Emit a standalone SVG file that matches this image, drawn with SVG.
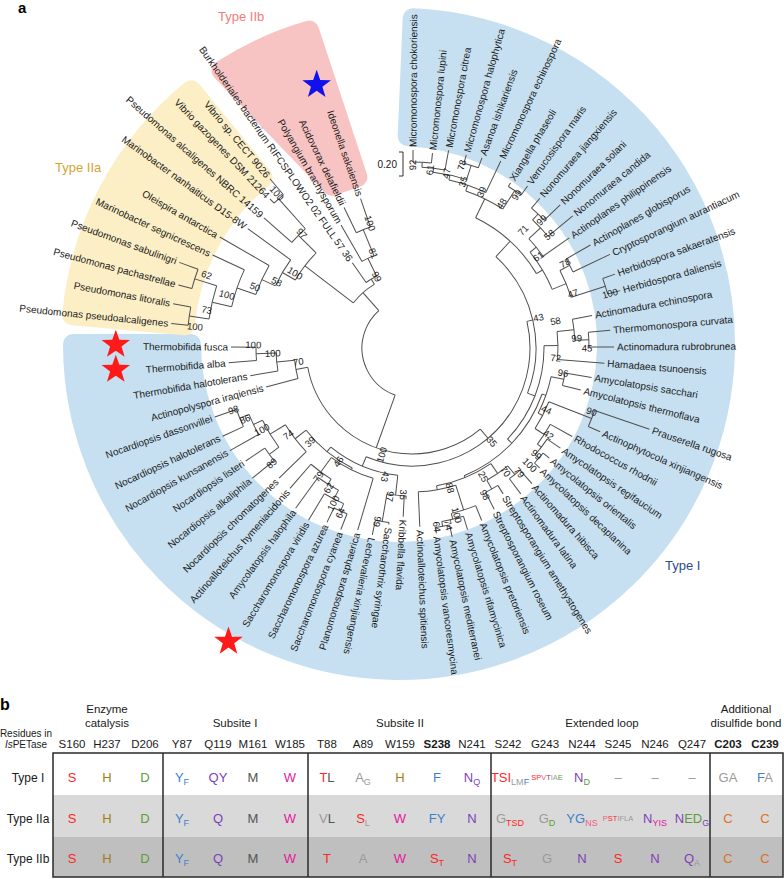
<svg xmlns="http://www.w3.org/2000/svg" width="784" height="879" viewBox="0 0 784 879">
<defs>
<style>
text{font-family:"Liberation Sans",Arial,sans-serif;}
.br line,.br circle{stroke:#4f4f4f;stroke-width:1;fill:none;}
.tl text{font-size:10px;fill:#1a1a1a;}
.tl .e{text-anchor:end;}
.bs text{font-size:9.5px;fill:#1a1a1a;text-anchor:middle;}
.hd{font-size:11.5px;fill:#1a1a1a;text-anchor:middle;}
.cl{font-size:13px;text-anchor:middle;}
.sm{font-size:7.5px;text-anchor:middle;}
.r{fill:#ff2626}.o{fill:#a07e16}.g{fill:#5e9b3a}.b{fill:#3c7fcf}.p{fill:#7d3fba}.k{fill:#555}.m{fill:#e3179d}.l{fill:#9a9a9a}.c{fill:#e06f1f}.pk{fill:#f06080}
</style>
<polygon id="star" points="0,-15 3.53,-4.85 14.27,-4.64 5.71,1.85 8.82,12.14 0,6 -8.82,12.14 -5.71,1.85 -14.27,-4.64 -3.53,-4.85"/>
</defs>
<rect width="784" height="879" fill="#fff"/>

<g id="regions" stroke-linejoin="round" stroke-width="20">
<path id="typeI-bg" d="M412.65,18.3 A326,326 0 1 1 73,344 L191,344 A208,208 0 1 0 407.7,136.2 Z" fill="#c7e0f1" stroke="#c7e0f1"/>
<path id="typeIIa-bg" d="M72.25,315.4 A328,328 0 0 1 191.25,90.18 L262.82,177.62 A215,215 0 0 0 184.82,325.26 Z" fill="#fcefc6" stroke="#fcefc6"/>
<path id="typeIIb-bg" d="M221.45,70.59 A326,326 0 0 1 309.14,30.63 L357.39,177.11 L331.79,185.67 Z" fill="#f8c3c3" stroke="#f8c3c3"/>
</g>

<text x="18" y="13" font-size="15" font-weight="bold" fill="#000">a</text>
<text x="218" y="21" font-size="13" fill="#f27c7c">Type IIb</text>
<text x="55" y="172" font-size="13" fill="#d3a534">Type IIa</text>
<text x="665" y="570" font-size="13" fill="#2a4b8d">Type I</text>

<g id="connectors" class="br" transform="translate(412,348)">
<circle r="50" pathLength="360" stroke-dasharray="118.73 400" transform="rotate(109.72)"/>
<line x1="50" x2="106" transform="rotate(109.72)"/>
<line x1="50" x2="74" transform="rotate(228.45)"/>
<circle r="106" pathLength="360" stroke-dasharray="119.64 400" transform="rotate(49.9)"/>
<line x1="106" x2="118" transform="rotate(169.54)"/>
<line x1="106" x2="118" transform="rotate(49.9)"/>
<circle r="118" pathLength="360" stroke-dasharray="9.08 400" transform="rotate(165)"/>
<line x1="118" x2="151" transform="rotate(165)"/>
<line x1="118" x2="136" transform="rotate(174.08)"/>
<circle r="136" pathLength="360" stroke-dasharray="7.55 400" transform="rotate(170.3)"/>
<line x1="136" x2="164" transform="rotate(170.3)"/>
<line x1="136" x2="156" transform="rotate(177.85)"/>
<circle r="156" pathLength="360" stroke-dasharray="4.9 400" transform="rotate(175.4)"/>
<line x1="156" x2="184" transform="rotate(175.4)"/>
<line x1="156" x2="181" transform="rotate(180.3)"/>
<circle r="118" pathLength="360" stroke-dasharray="125.9 400" transform="rotate(-13.045)"/>
<line x1="118" x2="124" transform="rotate(-13.045)"/>
<line x1="118" x2="128" transform="rotate(112.85)"/>
<circle r="124" pathLength="360" stroke-dasharray="68.75 400" transform="rotate(-47.42)"/>
<line x1="124" x2="145" transform="rotate(-47.42)"/>
<line x1="124" x2="132" transform="rotate(21.33)"/>
<circle r="145" pathLength="360" stroke-dasharray="33.12 400" transform="rotate(-63.98)"/>
<line x1="145" x2="166" transform="rotate(-63.98)"/>
<line x1="145" x2="152" transform="rotate(-30.86)"/>
<circle r="166" pathLength="360" stroke-dasharray="14.25 400" transform="rotate(-71.1)"/>
<line x1="166" x2="172" transform="rotate(-71.1)"/>
<line x1="166" x2="188" transform="rotate(-56.85)"/>
<circle r="172" pathLength="360" stroke-dasharray="13.01 400" transform="rotate(-77.61)"/>
<line x1="172" x2="177" transform="rotate(-77.61)"/>
<line x1="172" x2="207" transform="rotate(-64.6)"/>
<circle r="177" pathLength="360" stroke-dasharray="11.125 400" transform="rotate(-83.175)"/>
<line x1="177" x2="181" transform="rotate(-83.175)"/>
<line x1="177" x2="192" transform="rotate(-72.05)"/>
<circle r="181" pathLength="360" stroke-dasharray="7.35 400" transform="rotate(-86.85)"/>
<line x1="181" x2="186" transform="rotate(-86.85)"/>
<line x1="181" x2="201" transform="rotate(-79.5)"/>
<circle r="186" pathLength="360" stroke-dasharray="5.7 400" transform="rotate(-89.7)"/>
<line x1="186" x2="198" transform="rotate(-89.7)"/>
<line x1="186" x2="196" transform="rotate(-84)"/>
<circle r="192" pathLength="360" stroke-dasharray="4.5 400" transform="rotate(-74.3)"/>
<line x1="192" x2="200.6" transform="rotate(-74.3)"/>
<line x1="192" x2="202.6" transform="rotate(-69.8)"/>
<circle r="188" pathLength="360" stroke-dasharray="4.7 400" transform="rotate(-59.2)"/>
<line x1="188" x2="192.5" transform="rotate(-59.2)"/>
<line x1="188" x2="199" transform="rotate(-54.5)"/>
<circle r="152" pathLength="360" stroke-dasharray="16.36 400" transform="rotate(-39.04)"/>
<line x1="152" x2="160" transform="rotate(-39.04)"/>
<line x1="152" x2="167" transform="rotate(-22.68)"/>
<circle r="160" pathLength="360" stroke-dasharray="8.08 400" transform="rotate(-43.08)"/>
<line x1="160" x2="176" transform="rotate(-43.08)"/>
<line x1="160" x2="192" transform="rotate(-35)"/>
<circle r="176" pathLength="360" stroke-dasharray="7.35 400" transform="rotate(-46.75)"/>
<line x1="176" x2="184" transform="rotate(-46.75)"/>
<line x1="176" x2="208" transform="rotate(-39.4)"/>
<circle r="184" pathLength="360" stroke-dasharray="5.5 400" transform="rotate(-49.5)"/>
<line x1="184" x2="197" transform="rotate(-49.5)"/>
<line x1="184" x2="206" transform="rotate(-44)"/>
<circle r="167" pathLength="360" stroke-dasharray="9.97 400" transform="rotate(-27.65)"/>
<line x1="167" x2="178" transform="rotate(-27.65)"/>
<line x1="167" x2="203" transform="rotate(-17.7)"/>
<circle r="178" pathLength="360" stroke-dasharray="4.7 400" transform="rotate(-30)"/>
<line x1="178" x2="206" transform="rotate(-30)"/>
<line x1="178" x2="219" transform="rotate(-25.3)"/>
<circle r="203" pathLength="360" stroke-dasharray="4.6 400" transform="rotate(-20)"/>
<line x1="203" x2="216" transform="rotate(-20)"/>
<line x1="203" x2="216" transform="rotate(-15.4)"/>
<circle r="132" pathLength="360" stroke-dasharray="44.615 400" transform="rotate(-0.975)"/>
<line x1="132" x2="146" transform="rotate(-0.975)"/>
<line x1="132" x2="138" transform="rotate(43.64)"/>
<circle r="146" pathLength="360" stroke-dasharray="10.95 400" transform="rotate(-6.45)"/>
<line x1="146" x2="163" transform="rotate(-6.45)"/>
<line x1="146" x2="193" transform="rotate(4.5)"/>
<circle r="163" pathLength="360" stroke-dasharray="7.5 400" transform="rotate(-10.2)"/>
<line x1="163" x2="183" transform="rotate(-10.2)"/>
<line x1="163" x2="177" transform="rotate(-2.7)"/>
<circle r="177" pathLength="360" stroke-dasharray="4.8 400" transform="rotate(-5.1)"/>
<line x1="177" x2="199" transform="rotate(-5.1)"/>
<line x1="177" x2="202" transform="rotate(-0.3)"/>
<circle r="138" pathLength="360" stroke-dasharray="48.315 400" transform="rotate(19.485)"/>
<line x1="138" x2="142" transform="rotate(19.485)"/>
<line x1="138" x2="140" transform="rotate(67.8)"/>
<circle r="142" pathLength="360" stroke-dasharray="15.67 400" transform="rotate(11.65)"/>
<line x1="142" x2="155" transform="rotate(11.65)"/>
<line x1="142" x2="147" transform="rotate(27.32)"/>
<circle r="155" pathLength="360" stroke-dasharray="4.7 400" transform="rotate(9.3)"/>
<line x1="155" x2="182" transform="rotate(9.3)"/>
<line x1="155" x2="174" transform="rotate(14)"/>
<circle r="147" pathLength="360" stroke-dasharray="11.74 400" transform="rotate(21.45)"/>
<line x1="147" x2="193" transform="rotate(21.45)"/>
<line x1="147" x2="158" transform="rotate(33.19)"/>
<circle r="193" pathLength="360" stroke-dasharray="5.1 400" transform="rotate(18.9)"/>
<line x1="193" x2="251" transform="rotate(18.9)"/>
<line x1="193" x2="206" transform="rotate(24)"/>
<circle r="158" pathLength="360" stroke-dasharray="8.575 400" transform="rotate(28.9)"/>
<line x1="158" x2="183" transform="rotate(28.9)"/>
<line x1="158" x2="163" transform="rotate(37.475)"/>
<circle r="163" pathLength="360" stroke-dasharray="6.95 400" transform="rotate(34)"/>
<line x1="163" x2="179" transform="rotate(34)"/>
<line x1="163" x2="168" transform="rotate(40.95)"/>
<circle r="168" pathLength="360" stroke-dasharray="4.5 400" transform="rotate(38.7)"/>
<line x1="168" x2="176" transform="rotate(38.7)"/>
<line x1="168" x2="175" transform="rotate(43.2)"/>
<circle r="140" pathLength="360" stroke-dasharray="24.205 400" transform="rotate(55.7)"/>
<line x1="140" x2="152" transform="rotate(55.7)"/>
<line x1="140" x2="144" transform="rotate(79.905)"/>
<circle r="152" pathLength="360" stroke-dasharray="9.6 400" transform="rotate(50.9)"/>
<line x1="152" x2="163" transform="rotate(50.9)"/>
<line x1="152" x2="162" transform="rotate(60.5)"/>
<circle r="163" pathLength="360" stroke-dasharray="4.8 400" transform="rotate(48.5)"/>
<line x1="163" x2="181" transform="rotate(48.5)"/>
<line x1="163" x2="182" transform="rotate(53.3)"/>
<circle r="162" pathLength="360" stroke-dasharray="5 400" transform="rotate(58)"/>
<line x1="162" x2="172" transform="rotate(58)"/>
<line x1="162" x2="181" transform="rotate(63)"/>
<circle r="144" pathLength="360" stroke-dasharray="15.19 400" transform="rotate(72.31)"/>
<line x1="144" x2="170" transform="rotate(72.31)"/>
<line x1="144" x2="179" transform="rotate(87.5)"/>
<circle r="170" pathLength="360" stroke-dasharray="8.625 400" transform="rotate(68)"/>
<line x1="170" x2="186" transform="rotate(68)"/>
<line x1="170" x2="176" transform="rotate(76.625)"/>
<circle r="176" pathLength="360" stroke-dasharray="7.25 400" transform="rotate(73)"/>
<line x1="176" x2="190" transform="rotate(73)"/>
<line x1="176" x2="181" transform="rotate(80.25)"/>
<circle r="181" pathLength="360" stroke-dasharray="4.5 400" transform="rotate(78)"/>
<line x1="181" x2="193" transform="rotate(78)"/>
<line x1="181" x2="187" transform="rotate(82.5)"/>
<circle r="128" pathLength="360" stroke-dasharray="32.95 400" transform="rotate(96.375)"/>
<line x1="128" x2="148" transform="rotate(96.375)"/>
<line x1="128" x2="134" transform="rotate(129.325)"/>
<circle r="148" pathLength="360" stroke-dasharray="6.75 400" transform="rotate(93)"/>
<line x1="148" x2="169" transform="rotate(93)"/>
<line x1="148" x2="176" transform="rotate(99.75)"/>
<circle r="176" pathLength="360" stroke-dasharray="4.5 400" transform="rotate(97.5)"/>
<line x1="176" x2="178" transform="rotate(97.5)"/>
<line x1="176" x2="191" transform="rotate(102)"/>
<circle r="134" pathLength="360" stroke-dasharray="25.71 400" transform="rotate(116.47)"/>
<line x1="134" x2="136" transform="rotate(116.47)"/>
<line x1="134" x2="148" transform="rotate(142.18)"/>
<circle r="136" pathLength="360" stroke-dasharray="19.74 400" transform="rotate(106.6)"/>
<line x1="136" x2="190" transform="rotate(106.6)"/>
<line x1="136" x2="154" transform="rotate(126.34)"/>
<circle r="154" pathLength="360" stroke-dasharray="9.325 400" transform="rotate(121.675)"/>
<line x1="154" x2="186" transform="rotate(131)"/>
<line x1="154" x2="160" transform="rotate(121.675)"/>
<circle r="160" pathLength="360" stroke-dasharray="8.65 400" transform="rotate(117.35)"/>
<line x1="160" x2="198" transform="rotate(126)"/>
<line x1="160" x2="170" transform="rotate(117.35)"/>
<circle r="170" pathLength="360" stroke-dasharray="7.3 400" transform="rotate(113.7)"/>
<line x1="170" x2="201" transform="rotate(121)"/>
<line x1="170" x2="178" transform="rotate(113.7)"/>
<circle r="178" pathLength="360" stroke-dasharray="4.6 400" transform="rotate(111.4)"/>
<line x1="178" x2="195" transform="rotate(111.4)"/>
<line x1="178" x2="194" transform="rotate(116)"/>
<circle r="148" pathLength="360" stroke-dasharray="13.16 400" transform="rotate(135.6)"/>
<line x1="148" x2="186" transform="rotate(135.6)"/>
<line x1="148" x2="166" transform="rotate(148.76)"/>
<circle r="166" pathLength="360" stroke-dasharray="10.925 400" transform="rotate(143.3)"/>
<line x1="166" x2="178" transform="rotate(143.3)"/>
<line x1="166" x2="176" transform="rotate(154.225)"/>
<circle r="178" pathLength="360" stroke-dasharray="5 400" transform="rotate(140.8)"/>
<line x1="178" x2="206" transform="rotate(140.8)"/>
<line x1="178" x2="201" transform="rotate(145.8)"/>
<circle r="176" pathLength="360" stroke-dasharray="7.25 400" transform="rotate(150.6)"/>
<line x1="176" x2="209" transform="rotate(150.6)"/>
<line x1="176" x2="186" transform="rotate(157.85)"/>
<circle r="186" pathLength="360" stroke-dasharray="5.7 400" transform="rotate(155)"/>
<line x1="186" x2="209" transform="rotate(155)"/>
<line x1="186" x2="209" transform="rotate(160.7)"/>
<circle r="74" pathLength="360" stroke-dasharray="21.9 400" transform="rotate(217.5)"/>
<line x1="74" x2="135" transform="rotate(217.5)"/>
<line x1="74" x2="80" transform="rotate(239.4)"/>
<circle r="135" pathLength="360" stroke-dasharray="14.51 400" transform="rotate(210.24)"/>
<line x1="135" x2="150" transform="rotate(210.24)"/>
<line x1="135" x2="160" transform="rotate(224.75)"/>
<circle r="150" pathLength="360" stroke-dasharray="11.525 400" transform="rotate(204.475)"/>
<line x1="150" x2="165" transform="rotate(204.475)"/>
<line x1="150" x2="203" transform="rotate(216)"/>
<circle r="165" pathLength="360" stroke-dasharray="11.05 400" transform="rotate(198.95)"/>
<line x1="165" x2="185" transform="rotate(198.95)"/>
<line x1="165" x2="222" transform="rotate(210)"/>
<circle r="185" pathLength="360" stroke-dasharray="12.1 400" transform="rotate(192.9)"/>
<line x1="185" x2="205" transform="rotate(192.9)"/>
<line x1="185" x2="220" transform="rotate(205)"/>
<circle r="205" pathLength="360" stroke-dasharray="9.5 400" transform="rotate(188.15)"/>
<line x1="205" x2="225" transform="rotate(188.15)"/>
<line x1="205" x2="228" transform="rotate(197.65)"/>
<circle r="225" pathLength="360" stroke-dasharray="4.7 400" transform="rotate(185.8)"/>
<line x1="225" x2="242" transform="rotate(185.8)"/>
<line x1="225" x2="243" transform="rotate(190.5)"/>
<circle r="228" pathLength="360" stroke-dasharray="5.1 400" transform="rotate(195.1)"/>
<line x1="228" x2="242" transform="rotate(195.1)"/>
<line x1="228" x2="248" transform="rotate(200.2)"/>
<circle r="160" pathLength="360" stroke-dasharray="6.9 400" transform="rotate(221.3)"/>
<line x1="160" x2="197" transform="rotate(221.3)"/>
<line x1="160" x2="200" transform="rotate(228.2)"/>
<circle r="200" pathLength="360" stroke-dasharray="3.6 400" transform="rotate(226.4)"/>
<line x1="200" x2="206" transform="rotate(226.4)"/>
<line x1="200" x2="221" transform="rotate(230)"/>
<circle r="80" pathLength="360" stroke-dasharray="8.8 400" transform="rotate(235)"/>
<line x1="80" x2="104" transform="rotate(235)"/>
<line x1="80" x2="100" transform="rotate(243.8)"/>
<circle r="100" pathLength="360" stroke-dasharray="7.6 400" transform="rotate(240)"/>
<line x1="100" x2="142" transform="rotate(240)"/>
<line x1="100" x2="128" transform="rotate(247.6)"/>
<circle r="128" pathLength="360" stroke-dasharray="6.8 400" transform="rotate(244.2)"/>
<line x1="128" x2="156" transform="rotate(244.2)"/>
<line x1="128" x2="158" transform="rotate(251)"/>
</g>

<g id="taxa" class="tl" transform="translate(412,348)">
<g id="t01"><text transform="rotate(-89.7)" x="201" y="3.5">Micromonospora chokoriensis</text></g>
<g id="t02"><text transform="rotate(-84)" x="199" y="3.5">Micromonospora lupini</text></g>
<g id="t03"><text transform="rotate(-79.5)" x="204" y="3.5">Micromonospora citrea</text></g>
<g id="t04"><text transform="rotate(-74.3)" x="203.6" y="3.5">Micromonospora halophytica</text></g>
<g id="t05"><text transform="rotate(-69.8)" x="205.6" y="3.5">Asanoa ishikariensis</text></g>
<g id="t06"><text transform="rotate(-64.6)" x="210" y="3.5">Micromonospora echinospora</text></g>
<g id="t07"><text transform="rotate(-59.2)" x="195.5" y="3.5">Xiangella phaseoli</text></g>
<g id="t08"><text transform="rotate(-54.5)" x="202" y="3.5">Verrucosispora maris</text></g>
<g id="t09"><text transform="rotate(-49.5)" x="200" y="3.5">Nonomuraea jiangxiensis</text></g>
<g id="t10"><text transform="rotate(-44)" x="209" y="3.5">Nonomuraea solani</text></g>
<g id="t11"><text transform="rotate(-39.4)" x="211" y="3.5">Nonomuraea candida</text></g>
<g id="t12"><text transform="rotate(-35)" x="195" y="3.5">Actinoplanes philippinensis</text></g>
<g id="t13"><text transform="rotate(-30)" x="209" y="3.5">Actinoplanes globisporus</text></g>
<g id="t14"><text transform="rotate(-25.3)" x="222" y="3.5">Cryptosporangium aurantiacum</text></g>
<g id="t15"><text transform="rotate(-20)" x="219" y="3.5">Herbidospora sakaeratensis</text></g>
<g id="t16"><text transform="rotate(-15.4)" x="219" y="3.5">Herbidospora daliensis</text></g>
<g id="t17"><text transform="rotate(-10.2)" x="186" y="3.5">Actinomadura echinospora</text></g>
<g id="t18"><text transform="rotate(-5.1)" x="202" y="3.5">Thermomonospora curvata</text></g>
<g id="t19"><text transform="rotate(-0.3)" x="205" y="3.5">Actinomadura rubrobrunea</text></g>
<g id="t20"><text transform="rotate(4.5)" x="196" y="3.5">Hamadaea tsunoensis</text></g>
<g id="t21"><text transform="rotate(9.3)" x="185" y="3.5">Amycolatopsis sacchari</text></g>
<g id="t22"><text transform="rotate(14)" x="177" y="3.5">Amycolatopsis thermoflava</text></g>
<g id="t23"><text transform="rotate(18.9)" x="254" y="3.5">Prauserella rugosa</text></g>
<g id="t24"><text transform="rotate(24)" x="209" y="3.5">Actinophytocola xinjiangensis</text></g>
<g id="t25"><text transform="rotate(28.9)" x="186" y="3.5">Rhodococcus rhodnii</text></g>
<g id="t26"><text transform="rotate(34)" x="182" y="3.5">Amycolatopsis regifaucium</text></g>
<g id="t27"><text transform="rotate(38.7)" x="179" y="3.5">Amycolatopsis orientalis</text></g>
<g id="t28"><text transform="rotate(43.2)" x="178" y="3.5">Amycolatopsis decaplanina</text></g>
<g id="t29"><text transform="rotate(48.5)" x="184" y="3.5">Actinomadura hibisca</text></g>
<g id="t30"><text transform="rotate(53.3)" x="185" y="3.5">Actinomadura latina</text></g>
<g id="t31"><text transform="rotate(58)" x="175" y="3.5">Streptosporangium amethystogenes</text></g>
<g id="t32"><text transform="rotate(63)" x="184" y="3.5">Streptosporangium roseum</text></g>
<g id="t33"><text transform="rotate(68)" x="189" y="3.5">Amycolatopsis pretoriensis</text></g>
<g id="t34"><text transform="rotate(73)" x="193" y="3.5">Amycolatopsis rifamycinica</text></g>
<g id="t35"><text transform="rotate(78)" x="196" y="3.5">Amycolatopsis mediterranei</text></g>
<g id="t36"><text transform="rotate(82.5)" x="190" y="3.5">Amycolatopsis vancoresmycina</text></g>
<g id="t37"><text transform="rotate(87.5)" x="182" y="3.5">Actinoalloteichus spitiensis</text></g>
<g id="t38"><text transform="rotate(93)" x="172" y="3.5">Kribbella flavida</text></g>
<g id="t39"><text transform="rotate(97.5)" x="181" y="3.5">Saccharothrix syringae</text></g>
<g id="t40"><text transform="rotate(102)" x="194" y="3.5">Lechevalieria xinjiangensis</text></g>
<g id="t41"><text class="e" transform="rotate(-73.4)" x="-193" y="3.5">Planomonospora sphaerica</text></g>
<g id="t42"><text class="e" transform="rotate(-68.6)" x="-198" y="3.5">Saccharomonospora cyanea</text></g>
<g id="t43"><text class="e" transform="rotate(-64)" x="-197" y="3.5">Saccharomonospora azurea</text></g>
<g id="t44"><text class="e" transform="rotate(-59)" x="-204" y="3.5">Saccharomonospora viridis</text></g>
<g id="t45"><text class="e" transform="rotate(-54)" x="-201" y="3.5">Amycolatopsis halophila</text></g>
<g id="t46"><text class="e" transform="rotate(-49)" x="-189" y="3.5">Actinoalloteichus hymeniacidonis</text></g>
<g id="t47"><text class="e" transform="rotate(-44.4)" x="-189" y="3.5">Nocardiopsis chromatogenes</text></g>
<g id="t48"><text class="e" transform="rotate(-39.2)" x="-209" y="3.5">Nocardiopsis alkaliphila</text></g>
<g id="t49"><text class="e" transform="rotate(-34.2)" x="-204" y="3.5">Nocardiopsis listeri</text></g>
<g id="t50"><text class="e" transform="rotate(-29.4)" x="-212" y="3.5">Nocardiopsis kunsanensis</text></g>
<g id="t51"><text class="e" transform="rotate(-25)" x="-212" y="3.5">Nocardiopsis halotolerans</text></g>
<g id="t52"><text class="e" transform="rotate(-19.3)" x="-212" y="3.5">Nocardiopsis dassonvillei</text></g>
<g id="t53"><text class="e" transform="rotate(-15)" x="-154" y="3.5">Actinopolyspora iraqiensis</text></g>
<g id="t54"><text class="e" transform="rotate(-9.7)" x="-167" y="3.5">Thermobifida halotolerans</text></g>
<g id="t55"><text class="e" transform="rotate(-4.6)" x="-187" y="3.5">Thermobifida alba</text></g>
<g id="t56"><text class="e" transform="rotate(0.3)" x="-184" y="3.5">Thermobifida fusca</text></g>
<g id="t57"><text class="e" transform="rotate(5.8)" x="-245" y="3.5">Pseudomonas pseudoalcaligenes</text></g>
<g id="t58"><text class="e" transform="rotate(10.5)" x="-246" y="3.5">Pseudomonas litoralis</text></g>
<g id="t59"><text class="e" transform="rotate(15.1)" x="-245" y="3.5">Pseudomonas pachastrellae</text></g>
<g id="t60"><text class="e" transform="rotate(20.2)" x="-251" y="3.5">Pseudomonas sabulinigri</text></g>
<g id="t61"><text class="e" transform="rotate(25)" x="-223" y="3.5">Marinobacter segnicrescens</text></g>
<g id="t62"><text class="e" transform="rotate(30)" x="-225" y="3.5">Oleispira antarctica</text></g>
<g id="t63"><text class="e" transform="rotate(36)" x="-206" y="3.5">Marinobacter nanhaiticus D15-8W</text></g>
<g id="t64"><text class="e" transform="rotate(41.3)" x="-200" y="3.5">Pseudomonas alcaligenes NBRC 14159</text></g>
<g id="t65"><text class="e" transform="rotate(46.4)" x="-209" y="3.5">Vibrio gazogenes DSM 21264</text></g>
<g id="t66"><text class="e" transform="rotate(50)" x="-224" y="3.5">Vibrio sp. CECT 9026</text></g>
<g id="t67"><text class="e" transform="rotate(55)" x="-107" y="3.5">Burkholderiales bacterium RIFCSPLOWO2 02 FULL 57 36</text></g>
<g id="t68"><text class="e" transform="rotate(60)" x="-145" y="3.5">Polyangium brachysporum</text></g>
<g id="t69"><text class="e" transform="rotate(64.2)" x="-159" y="3.5">Acidovorax delafieldii</text></g>
<g id="t70"><text class="e" transform="rotate(71)" x="-161" y="3.5">Ideonella sakaiensis</text></g>
</g>

<g id="support" class="bs" transform="translate(412,348)">
<text transform="rotate(-89.8)" x="183" y="3.3">92</text>
<text transform="rotate(-84.2)" x="179" y="3.3">61</text>
<text transform="rotate(-78.8)" x="178" y="3.3">47</text>
<text transform="rotate(-74.8)" x="189.6" y="3.3">78</text>
<text transform="rotate(-72.9)" x="174" y="3.3">35</text>
<text transform="rotate(-66)" x="171" y="3.3">39</text>
<text transform="rotate(-58.2)" x="170" y="3.3">48</text>
<text transform="rotate(-55.6)" x="185.4" y="3.3">99</text>
<text transform="rotate(-46.7)" x="162" y="3.3">71</text>
<text transform="rotate(-44.6)" x="182" y="3.3">99</text>
<text transform="rotate(-39.5)" x="178" y="3.3">58</text>
<text transform="rotate(-35.9)" x="156" y="3.3">61</text>
<text transform="rotate(-29)" x="175" y="3.3">78</text>
<text transform="rotate(-18.7)" x="170" y="3.3">47</text>
<text transform="rotate(-15.4)" x="205.4" y="3.3">100</text>
<text transform="rotate(-13.5)" x="130" y="3.3">43</text>
<text transform="rotate(-10.6)" x="146" y="3.3">58</text>
<text transform="rotate(-3.4)" x="165" y="3.3">99</text>
<text transform="rotate(0.1)" x="175" y="3.3">45</text>
<text transform="rotate(4)" x="144" y="3.3">72</text>
<text transform="rotate(9.4)" x="153" y="3.3">96</text>
<text transform="rotate(19.5)" x="190.6" y="3.3">90</text>
<text transform="rotate(24.7)" x="148" y="3.3">44</text>
<text transform="rotate(32.5)" x="161.7" y="3.3">42</text>
<text transform="rotate(40.6)" x="164" y="3.3">99</text>
<text transform="rotate(44.8)" x="166" y="3.3">100</text>
<text transform="rotate(49.3)" x="164.5" y="3.3">79</text>
<text transform="rotate(52.9)" x="155" y="3.3">70</text>
<text transform="rotate(49.6)" x="123" y="3.3">35</text>
<text transform="rotate(61)" x="147" y="3.3">25</text>
<text transform="rotate(63.6)" x="164" y="3.3">98</text>
<text transform="rotate(74.8)" x="145" y="3.3">88</text>
<text transform="rotate(75)" x="173" y="3.3">100</text>
<text transform="rotate(78.4)" x="180.7" y="3.3">74</text>
<text transform="rotate(82.1)" x="180.4" y="3.3">64</text>
<text transform="rotate(93.4)" x="147" y="3.3">35</text>
<text transform="rotate(98.4)" x="150" y="3.3">97</text>
<text transform="rotate(101.8)" x="131.5" y="3.3">43</text>
<text transform="rotate(101.3)" x="177" y="3.3">99</text>
<text transform="rotate(-74.2)" x="-111" y="3.3">100</text>
<text transform="rotate(-66.5)" x="-180" y="3.3">64</text>
<text transform="rotate(-63.1)" x="-174" y="3.3">100</text>
<text transform="rotate(-59.2)" x="-163" y="3.3">62</text>
<text transform="rotate(-54)" x="-159" y="3.3">79</text>
<text transform="rotate(-57.1)" x="-135.5" y="3.3">46</text>
<text transform="rotate(-42.6)" x="-138.5" y="3.3">39</text>
<text transform="rotate(-35.1)" x="-151" y="3.3">74</text>
<text transform="rotate(-39.4)" x="-181.6" y="3.3">89</text>
<text transform="rotate(-28.6)" x="-171" y="3.3">100</text>
<text transform="rotate(-23.1)" x="-181.6" y="3.3">86</text>
<text transform="rotate(-19.1)" x="-189" y="3.3">98</text>
<text transform="rotate(-6.9)" x="-114.5" y="3.3">70</text>
<text transform="rotate(-2.2)" x="-139.4" y="3.3">100</text>
<text transform="rotate(1.1)" x="-158.7" y="3.3">100</text>
<text transform="rotate(5.6)" x="-218" y="3.3">100</text>
<text transform="rotate(10.5)" x="-208.8" y="3.3">73</text>
<text transform="rotate(19.6)" x="-218" y="3.3">62</text>
<text transform="rotate(16)" x="-192.7" y="3.3">100</text>
<text transform="rotate(21.3)" x="-168.5" y="3.3">50</text>
<text transform="rotate(26.1)" x="-150.7" y="3.3">58</text>
<text transform="rotate(32.6)" x="-138.8" y="3.3">100</text>
<text transform="rotate(46.1)" x="-159" y="3.3">97</text>
<text transform="rotate(48.8)" x="-205.5" y="3.3">100</text>
<text transform="rotate(63.7)" x="-79.6" y="3.3">99</text>
<text transform="rotate(67.8)" x="-102.3" y="3.3">81</text>
<text transform="rotate(71.4)" x="-131.6" y="3.3">100</text>
</g>

<g id="scale-bar">
<path d="M399,152 H403 V176 H399" fill="none" stroke="#333" stroke-width="1"/>
<text x="397" y="167.5" font-size="10" text-anchor="end" fill="#1a1a1a">0.20</text>
</g>

<g id="stars">
<use href="#star" x="316.7" y="84.8" fill="#1111ee"/>
<use href="#star" x="115.8" y="344.7" fill="#ff1a1a"/>
<use href="#star" x="115.8" y="369.7" fill="#ff1a1a"/>
<use href="#star" x="228.5" y="641.5" fill="#ff1a1a"/>
</g>

<g id="table">
<text x="0" y="710" font-size="16" font-weight="bold" fill="#000">b</text>
<rect x="53" y="753" width="730" height="42" fill="#ffffff"/>
<rect x="53" y="795" width="730" height="42" fill="#d9d9d9"/>
<rect x="53" y="837" width="730" height="40" fill="#bfbfbf"/>
<rect x="53" y="753" width="730" height="124" fill="none" stroke="#2a2a2a" stroke-width="1.5"/>
<g stroke="#2a2a2a" stroke-width="1.5">
<line x1="163" y1="753" x2="163" y2="877"/>
<line x1="308" y1="753" x2="308" y2="877"/>
<line x1="491" y1="753" x2="491" y2="877"/>
<line x1="710" y1="753" x2="710" y2="877"/>
</g>
<text class="hd" x="107" y="713">Enzyme</text>
<text class="hd" x="107" y="727">catalysis</text>
<text class="hd" x="235" y="727">Subsite I</text>
<text class="hd" x="400" y="727">Subsite II</text>
<text class="hd" x="602" y="727">Extended loop</text>
<text class="hd" x="746" y="713">Additional</text>
<text class="hd" x="746" y="727">disulfide bond</text>
<text x="26" y="737" font-size="10" text-anchor="middle" fill="#1a1a1a">Residues in</text>
<text x="26" y="748" font-size="10" text-anchor="middle" fill="#1a1a1a"><tspan font-style="italic">Is</tspan>PETase</text>
<g class="hd">
<text class="hd" x="72" y="748">S160</text>
<text class="hd" x="107" y="748">H237</text>
<text class="hd" x="145" y="748">D206</text>
<text class="hd" x="182" y="748">Y87</text>
<text class="hd" x="218" y="748">Q119</text>
<text class="hd" x="253" y="748">M161</text>
<text class="hd" x="290" y="748">W185</text>
<text class="hd" x="327" y="748">T88</text>
<text class="hd" x="363" y="748">A89</text>
<text class="hd" x="400" y="748">W159</text>
<text class="hd" x="437" y="748" font-weight="bold">S238</text>
<text class="hd" x="472" y="748">N241</text>
<text class="hd" x="508" y="748">S242</text>
<text class="hd" x="545" y="748">G243</text>
<text class="hd" x="582" y="748">N244</text>
<text class="hd" x="618" y="748">S245</text>
<text class="hd" x="655" y="748">N246</text>
<text class="hd" x="692" y="748">Q247</text>
<text class="hd" x="728" y="748" font-weight="bold">C203</text>
<text class="hd" x="765" y="748" font-weight="bold">C239</text>
</g>
<text x="28" y="782" font-size="12" text-anchor="middle" fill="#1a1a1a">Type I</text>
<text x="28" y="823" font-size="12" text-anchor="middle" fill="#1a1a1a">Type IIa</text>
<text x="28" y="863" font-size="12" text-anchor="middle" fill="#1a1a1a">Type IIb</text>

<g id="row-typeI">
<text class="cl r" x="72" y="781.7">S</text>
<text class="cl o" x="107" y="781.7">H</text>
<text class="cl g" x="145" y="781.7">D</text>
<text class="cl b" x="182" y="781.7">Y<tspan font-size="9" dy="3.5">F</tspan></text>
<text class="cl p" x="218" y="781.7">QY</text>
<text class="cl k" x="253" y="781.7">M</text>
<text class="cl m" x="290" y="781.7">W</text>
<text class="cl" x="327" y="781.7"><tspan class="r">T</tspan><tspan class="k">L</tspan></text>
<text class="cl l" x="363" y="781.7">A<tspan font-size="9" dy="3.5">G</tspan></text>
<text class="cl o" x="400" y="781.7">H</text>
<text class="cl b" x="437" y="781.7">F</text>
<text class="cl p" x="472" y="781.7">N<tspan font-size="9" dy="3.5">Q</tspan></text>
<text class="cl" x="510" y="781.7"><tspan class="r">TSI</tspan><tspan font-size="9" dy="3.5" class="l">LM</tspan><tspan font-size="9" class="b">F</tspan></text>
<text class="sm" x="547" y="780"><tspan class="r">SP</tspan><tspan class="pk">V</tspan><tspan class="k">T</tspan><tspan class="l">IA</tspan><tspan class="g">E</tspan></text>
<text class="cl p" x="582" y="781.7">N<tspan font-size="9" dy="3.5" class="g">D</tspan></text>
<text class="cl l" x="618" y="781.7">–</text>
<text class="cl l" x="655" y="781.7">–</text>
<text class="cl l" x="692" y="781.7">–</text>
<text class="cl l" x="728" y="781.7">GA</text>
<text class="cl" x="765" y="781.7"><tspan class="b">F</tspan><tspan class="l">A</tspan></text>
</g>
<g id="row-typeIIa">
<text class="cl r" x="72" y="822.7">S</text>
<text class="cl o" x="107" y="822.7">H</text>
<text class="cl g" x="145" y="822.7">D</text>
<text class="cl b" x="182" y="822.7">Y<tspan font-size="9" dy="3.5">F</tspan></text>
<text class="cl p" x="218" y="822.7">Q</text>
<text class="cl k" x="253" y="822.7">M</text>
<text class="cl m" x="290" y="822.7">W</text>
<text class="cl" x="327" y="822.7"><tspan class="l">V</tspan><tspan class="k">L</tspan></text>
<text class="cl r" x="363" y="822.7">S<tspan font-size="9" dy="3.5" class="l">L</tspan></text>
<text class="cl m" x="400" y="822.7">W</text>
<text class="cl b" x="437" y="822.7">FY</text>
<text class="cl p" x="472" y="822.7">N</text>
<text class="cl l" x="510" y="822.7">G<tspan font-size="9" dy="3.5" class="r">TSD</tspan></text>
<text class="cl l" x="547" y="822.7">G<tspan font-size="9" dy="3.5" class="g">D</tspan></text>
<text class="cl b" x="582" y="822.7">YG<tspan font-size="9" dy="3.5" class="pk">NS</tspan></text>
<text class="sm" x="618" y="821"><tspan class="pk">P</tspan><tspan class="r">ST</tspan><tspan class="l">IFLA</tspan></text>
<text class="cl p" x="655" y="822.7">N<tspan font-size="9" dy="3.5" class="m">YIS</tspan></text>
<text class="cl" x="692" y="822.7"><tspan class="p">N</tspan><tspan class="g">ED</tspan><tspan font-size="9" dy="3.5" class="p">G</tspan></text>
<text class="cl c" x="728" y="822.7">C</text>
<text class="cl c" x="765" y="822.7">C</text>
</g>
<g id="row-typeIIb">
<text class="cl r" x="72" y="862.7">S</text>
<text class="cl o" x="107" y="862.7">H</text>
<text class="cl g" x="145" y="862.7">D</text>
<text class="cl b" x="182" y="862.7">Y<tspan font-size="9" dy="3.5">F</tspan></text>
<text class="cl p" x="218" y="862.7">Q</text>
<text class="cl k" x="253" y="862.7">M</text>
<text class="cl m" x="290" y="862.7">W</text>
<text class="cl r" x="327" y="862.7">T</text>
<text class="cl l" x="363" y="862.7">A</text>
<text class="cl m" x="400" y="862.7">W</text>
<text class="cl r" x="437" y="862.7">S<tspan font-size="9" dy="3.5">T</tspan></text>
<text class="cl p" x="472" y="862.7">N</text>
<text class="cl r" x="510" y="862.7">S<tspan font-size="9" dy="3.5">T</tspan></text>
<text class="cl l" x="547" y="862.7">G</text>
<text class="cl p" x="582" y="862.7">N</text>
<text class="cl r" x="618" y="862.7">S</text>
<text class="cl p" x="655" y="862.7">N</text>
<text class="cl p" x="692" y="862.7">Q<tspan font-size="9" dy="3.5" class="l">A</tspan></text>
<text class="cl c" x="728" y="862.7">C</text>
<text class="cl c" x="765" y="862.7">C</text>
</g>
</g>
</svg>
